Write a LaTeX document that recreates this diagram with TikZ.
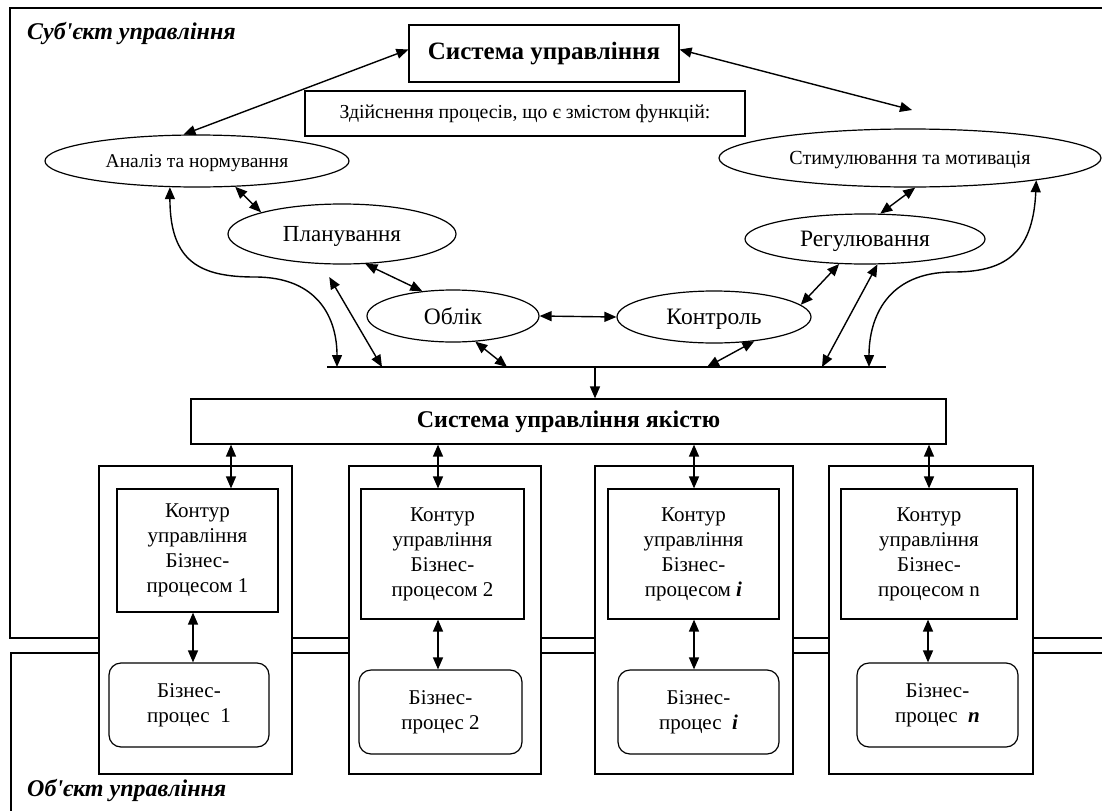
\documentclass[tikz,border=0pt]{standalone}
\usepackage{fontspec}
\setmainfont{Liberation Serif}
\usetikzlibrary{arrows.meta,shapes.geometric,calc}
\begin{document}
\begin{tikzpicture}[x=1pt,y=-1pt,
  frame/.style={line width=1.2pt},
  box/.style={draw, line width=1.2pt, inner sep=0pt, align=center},
  ell/.style={draw, ellipse, line width=1.2pt, inner sep=0pt, text depth=0pt},
  col/.style={draw, fill=white, line width=1.2pt, inner sep=0pt},
  bp/.style={draw, fill=white, line width=1.2pt, inner sep=0pt, rounded corners=12pt, align=center, font=\fontsize{21}{25}\selectfont},
  inb/.style={draw, fill=white, line width=1.2pt, inner sep=0pt, align=center, font=\fontsize{21}{25}\selectfont},
  dar/.style={line width=1.4pt, {Triangle[length=12pt,width=10pt]}-{Triangle[length=12pt,width=10pt]}},
  sar/.style={line width=1.4pt, -{Triangle[length=12pt,width=10pt]}},
]
\useasboundingbox (0,0) rectangle (1102,811);
% frames
\draw[frame] (1102,8) -- (10,8) -- (10,638) -- (1102,638);
\draw[frame] (1102,653) -- (11,653) -- (11,811);
\node[anchor=west, inner sep=0pt, font=\bfseries\itshape\fontsize{24}{26}\selectfont] (subj) at (27,33) {Суб\textquotesingle єкт управління};
\node[anchor=west, inner sep=0pt, font=\bfseries\itshape\fontsize{24}{26}\selectfont] (obj) at (27,790) {Об\textquotesingle єкт управління};

% top boxes
\node[box, minimum width=270pt, minimum height=57pt, font=\bfseries\fontsize{25}{28}\selectfont] (su) at (544,53.5) {Система управління};
\node[box, minimum width=440pt, minimum height=45pt, font=\fontsize{19.8}{22}\selectfont] (zd) at (525,113.5) {Здійснення процесів, що є змістом функцій:};

% ellipses
\node[ell, minimum width=304pt, minimum height=52pt, font=\fontsize{19.5}{22}\selectfont] (anal) at (197,161) {Аналіз та нормування\hspace{8pt}};
\node[ell, minimum width=382pt, minimum height=58pt, font=\fontsize{20}{22}\selectfont] (stim) at (910,158) {Стимулювання та мотивація\hspace{4pt}};
\node[ell, minimum width=228pt, minimum height=60pt, font=\fontsize{23}{26}\selectfont] (plan) at (342,234) {Планування\hspace{22pt}};
\node[ell, minimum width=172pt, minimum height=52pt, font=\fontsize{23.5}{26}\selectfont] (obl) at (453,316) {Облік\hspace{34pt}};
\node[ell, minimum width=194pt, minimum height=52pt, font=\fontsize{23.5}{26}\selectfont] (kontr) at (714,317) {Контроль\hspace{12pt}};
\node[ell, minimum width=240pt, minimum height=50pt, font=\fontsize{23.5}{26}\selectfont] (reg) at (865,239) {Регулювання\hspace{10pt}};

% bus
\coordinate (busL) at (327,367);
\coordinate (busR) at (886,367);
\coordinate (b1) at (337,367);
\coordinate (b2) at (382,367);
\coordinate (b3) at (507,367);
\coordinate (b0) at (595,367);
\coordinate (b4) at (707,367);
\coordinate (b5) at (822,367);
\coordinate (b6) at (869,367);
\coordinate (stimtip) at (912,110);
\draw[line width=1.4pt] (busL) -- (busR);

% quality system
\node[box, minimum width=755pt, minimum height=45pt, font=\bfseries\fontsize{24}{26}\selectfont] (suq) at (568.5,421.5) {Система управління якістю};

% columns
\node[col, minimum width=193pt, minimum height=308pt] (c1) at (195.5,620) {};
\node[col, minimum width=192pt, minimum height=308pt] (c2) at (445,620) {};
\node[col, minimum width=198pt, minimum height=308pt] (c3) at (694,620) {};
\node[col, minimum width=204pt, minimum height=308pt] (c4) at (931,620) {};

\node[inb, minimum width=161pt, minimum height=123pt] (in1) at (197.5,550.5) {Контур\\управління\\Бізнес-\\процесом 1};
\node[inb, minimum width=163pt, minimum height=130pt] (in2) at (442.5,554) {Контур\\управління\\Бізнес-\\процесом 2};
\node[inb, minimum width=171pt, minimum height=130pt] (in3) at (693.5,554) {Контур\\управління\\Бізнес-\\процесом \textbf{\textit{i}}};
\node[inb, minimum width=176pt, minimum height=130pt] (in4) at (929,554) {Контур\\управління\\Бізнес-\\процесом n};

\node[bp, minimum width=160pt, minimum height=84pt] (bp1) at (189,705) {Бізнес-\\процес\ \ 1};
\node[bp, minimum width=163pt, minimum height=84pt] (bp2) at (440.5,712) {Бізнес-\\процес 2};
\node[bp, minimum width=161pt, minimum height=84pt] (bp3) at (698.5,712) {Бізнес-\\процес\ \ \textbf{\textit{i}}};
\node[bp, minimum width=161pt, minimum height=84pt] (bp4) at (937.5,705) {Бізнес-\\процес\ \ \textbf{\textit{n}}};

% arrows top
\draw[dar] ([yshift=4pt]su.west) -- (anal.117);
\draw[dar] ([yshift=4pt]su.east) -- (stimtip);
\draw[dar] (anal.-34) -- (plan.165);
\draw[dar] (anal.224) .. controls (170,262) and (200,277) .. (255,277) .. controls (318,277) and (337,318) .. (b1);
\draw[dar, shorten <=15pt] (plan.-124) -- (b2);
\draw[dar] (plan.-52) -- (obl.141);
\draw[dar] (obl.east) -- (kontr.west);
\draw[dar] (obl.-49) -- (b3);
\draw[dar] (kontr.-31) -- (b4);
\draw[dar] (kontr.8) -- (reg.-136);
\draw[dar] (reg.-64) -- (b5);
\draw[dar] (stim.-10) .. controls (1033,256) and (1002,272) .. (953,272) .. controls (887,272) and (869,318) .. (b6);
\draw[dar] (stim.-80) -- (reg.59);
\draw[sar] (b0) -- (b0 |- suq.north);

% quality to contours
\coordinate (x1) at (231,0);
\coordinate (x2) at (438,0);
\coordinate (x3) at (694,0);
\coordinate (x4) at (929,0);
\draw[dar] (x1 |- suq.south) -- (x1 |- in1.north);
\draw[dar] (x2 |- suq.south) -- (x2 |- in2.north);
\draw[dar] (x3 |- suq.south) -- (x3 |- in3.north);
\draw[dar] (x4 |- suq.south) -- (x4 |- in4.north);

% contours to processes
\coordinate (y1) at (193,0);
\coordinate (y2) at (438,0);
\coordinate (y3) at (694,0);
\coordinate (y4) at (928,0);
\draw[dar] (y1 |- in1.south) -- (y1 |- bp1.north);
\draw[dar] (y2 |- in2.south) -- (y2 |- bp2.north);
\draw[dar] (y3 |- in3.south) -- (y3 |- bp3.north);
\draw[dar] (y4 |- in4.south) -- (y4 |- bp4.north);
\end{tikzpicture}
\end{document}
